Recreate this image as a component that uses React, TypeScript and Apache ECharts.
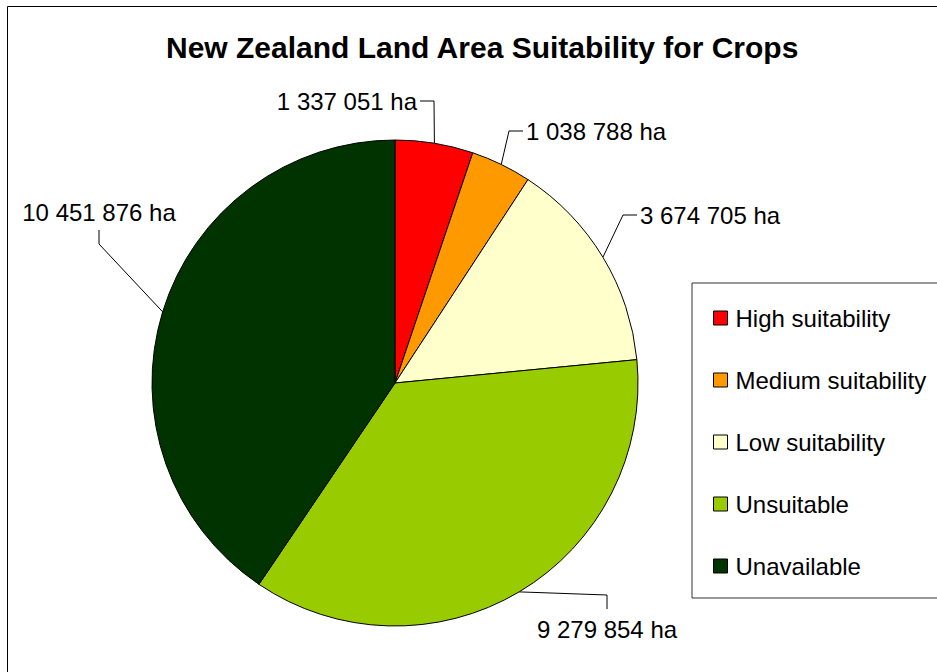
import React, { useEffect, useRef } from "react";
import * as echarts from "echarts";

// Land area by crop suitability class (hectares)
const categories = [
  "High suitability",
  "Medium suitability",
  "Low suitability",
  "Unsuitable",
  "Unavailable",
];
const areasHa = [1337051, 1038788, 3674705, 9279854, 10451876];
const sliceColors = ["#FF0000", "#FF9900", "#FFFFCC", "#99CC00", "#003300"];
const unit = "ha";
const titleText = "New Zealand Land Area Suitability for Crops";

const FONT = "'Liberation Sans', Arial, Helvetica, sans-serif";

// Where each value label sits and on which side its leader line attaches
type Side = "left" | "right" | "top" | "bottom";
const labelPlacement: { x: number; y: number; align: string; side: Side }[] = [
  { x: 417, y: 101, align: "right", side: "right" },
  { x: 526, y: 131, align: "left", side: "left" },
  { x: 640, y: 215, align: "left", side: "left" },
  { x: 607, y: 629, align: "center", side: "top" },
  { x: 99, y: 212, align: "center", side: "bottom" },
];

// thousands grouped with spaces: 1337051 -> "1 337 051"
const groupDigits = (v: number) =>
  String(Math.round(v)).replace(/\B(?=(\d{3})+(?!\d))/g, " ");

// leader line: from the slice's outer mid-point to a bend, then a short stub to the label
function leaderPoints(anchor: number[], p: { x: number; y: number; side: Side }) {
  const gap = 3;
  const stub = 14;
  let end: number[];
  let bend: number[];
  if (p.side === "right") {
    end = [p.x + gap, p.y];
    bend = [p.x + gap + stub, p.y];
  } else if (p.side === "left") {
    end = [p.x - gap, p.y];
    bend = [p.x - gap - stub, p.y];
  } else if (p.side === "top") {
    end = [p.x, p.y - 20];
    bend = [p.x, p.y - 20 - stub];
  } else {
    end = [p.x, p.y + 18];
    bend = [p.x, p.y + 18 + stub];
  }
  return [anchor, bend, end];
}

export default function App() {
  const ref = useRef<HTMLDivElement>(null);

  useEffect(() => {
    if (!ref.current) return;
    const chart = echarts.init(ref.current, null, { renderer: "svg" });

    const option: any = {
      animation: false,
      backgroundColor: "#ffffff",
      title: {
        text: titleText,
        left: 166,
        top: 31,
        padding: 0,
        textStyle: {
          fontFamily: FONT,
          fontSize: 30,
          fontWeight: "bold",
          color: "#000",
          lineHeight: 32,
        },
      },
      legend: {
        orient: "vertical",
        left: 692,
        top: 283,
        data: categories,
        icon: "rect",
        itemWidth: 14,
        itemHeight: 14,
        itemGap: 38,
        padding: [23, 80, 20, 21],
        borderColor: "#333",
        borderWidth: 1,
        backgroundColor: "#fff",
        selectedMode: false,
        itemStyle: { borderColor: "#000", borderWidth: 1 },
        textStyle: {
          fontFamily: FONT,
          fontSize: 24,
          color: "#000",
          lineHeight: 24,
          padding: [0, 0, 0, 3],
        },
      },
      graphic: [
        {
          type: "rect",
          z: -10,
          shape: { x: 7.5, y: 6.5, width: 1000, height: 1000 },
          style: { fill: "none", stroke: "#000", lineWidth: 1 },
          silent: true,
        },
      ],
      series: [
        {
          type: "pie",
          center: [395, 383],
          radius: 243,
          startAngle: 90,
          clockwise: true,
          avoidLabelOverlap: false,
          emphasis: { disabled: true },
          data: categories.map((name, i) => ({
            name,
            value: areasHa[i],
            itemStyle: { color: sliceColors[i] },
          })),
          itemStyle: { borderColor: "#000", borderWidth: 1 },
          label: {
            show: true,
            position: "outside",
            formatter: (p: any) => `${groupDigits(p.value)} ${unit}`,
            fontFamily: FONT,
            fontSize: 24,
            color: "#000",
          },
          labelLine: {
            show: true,
            length: 10,
            length2: 10,
            lineStyle: { color: "#000", width: 1 },
          },
          labelLayout: (params: any) => {
            const p = labelPlacement[params.dataIndex];
            const anchor = params.labelLinePoints
              ? params.labelLinePoints[0]
              : [p.x, p.y];
            return {
              x: p.x,
              y: p.y,
              align: p.align,
              verticalAlign: "middle",
              labelLinePoints: leaderPoints(anchor, p),
            };
          },
        },
      ],
    };

    chart.setOption(option);
    return () => chart.dispose();
  }, []);

  return (
    <div
      ref={ref}
      style={{ position: "absolute", left: 0, top: 0, width: 937, height: 672 }}
    />
  );
}
